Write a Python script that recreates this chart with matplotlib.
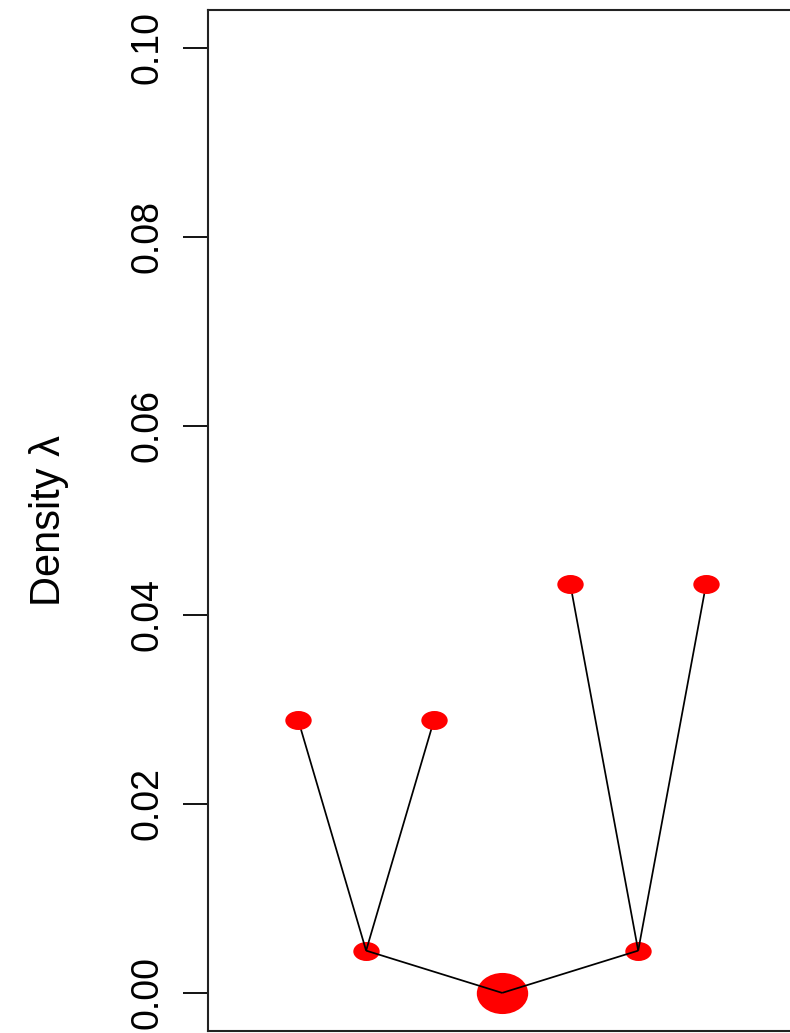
import numpy as np
import matplotlib
matplotlib.use("Agg")
import matplotlib.pyplot as plt
from matplotlib.path import Path
from matplotlib.transforms import Affine2D

plt.rcParams['font.family'] = ['Liberation Sans', 'DejaVu Sans']

# node positions and densities
node_x = [1, 2, 3, 4, 5, 6, 7]
density = [0.0289, 0.00447, 0.0289, 0.0, 0.0433, 0.00447, 0.0433]
# tree edges (parent index, child index)
edges = [(1, 0), (1, 2), (3, 1), (3, 5), (5, 4), (5, 6)]
leaves = [0, 2, 4, 6]
internal = [1, 5]
root = [3]
yticks = [0.00, 0.02, 0.04, 0.06, 0.08, 0.10]
ytick_labels = ["0.00", "0.02", "0.04", "0.06", "0.08", "0.10"]
ylabel = "Density λ"

W, H = 790, 1033
fig = plt.figure(figsize=(W / 100, H / 100), dpi=100)
left, right = 208.3, 796.0
top, bottom = 9.7, 1030.7
ax = fig.add_axes([left / W, (H - bottom) / H, (right - left) / W, (bottom - top) / H])

def ellipse_marker(aspect):
    circ = Path.unit_circle()
    return Path(Affine2D().scale(1.0, aspect).transform(circ.vertices), circ.codes)

small = ellipse_marker(0.72)
big = ellipse_marker(0.8)

xs = np.array(node_x, dtype=float)
ys = np.array(density, dtype=float)

for p, c in edges:
    ax.plot([xs[p], xs[c]], [ys[p], ys[c]], color='black', lw=1.25, zorder=3,
            solid_capstyle='butt')

ax.plot(xs[leaves], ys[leaves], linestyle='none', marker=small, markersize=19,
        color='#ff0000', markeredgewidth=0, zorder=4)
ax.plot(xs[internal], ys[internal], linestyle='none', marker=small, markersize=19,
        color='#ff0000', markeredgewidth=0, zorder=2)
ax.plot(xs[root], ys[root], linestyle='none', marker=big, markersize=37,
        color='#ff0000', markeredgewidth=0, zorder=2)

ax.set_xlim(-0.32, 8.32)
ax.set_ylim(-0.004, 0.104)
ax.set_xticks([])
ax.set_yticks(yticks)
ax.set_yticklabels(ytick_labels, rotation=90, va='center', fontsize=27)
ax.tick_params(axis='y', length=18, width=1.3, pad=13, direction='out')
for s in ax.spines.values():
    s.set_linewidth(1.5)
    s.set_color('#222222')

ax.set_ylabel(ylabel, fontsize=30)
ax.yaxis.set_label_coords(-208.3 / (right - left) + 49 / (right - left), 0.5)
ax.yaxis.label.set_va('center')

fig.savefig("out.png", dpi=100)
